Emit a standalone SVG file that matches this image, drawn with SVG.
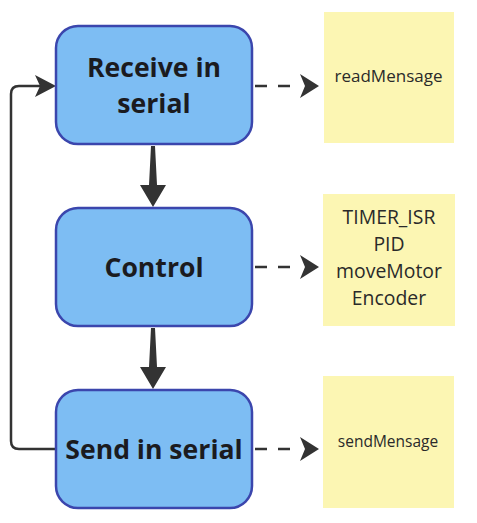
<svg xmlns="http://www.w3.org/2000/svg" width="477" height="523" viewBox="0 0 477 523">
<defs>
<style>
.box{fill:#7dbdf3;stroke:#3b46ad;stroke-width:2.5}
.note{fill:#fcf6b3}
.t{font-family:"Open Sans","Noto Sans",sans-serif;font-weight:bold;font-size:26.6px;fill:#1b1b1f;text-anchor:middle}
.n{font-family:"Open Sans","Noto Sans",sans-serif;font-size:17px;fill:#2a2a2a;text-anchor:middle}
.dash{fill:none;stroke:#333;stroke-width:2.5;stroke-dasharray:12 11}
.ah{fill:#333}
</style>
<linearGradient id="g" x1="0" y1="1" x2="1" y2="0">
<stop offset="0" stop-color="#fbf4b6"/>
<stop offset="1" stop-color="#fdf5a8"/>
</linearGradient>
</defs>
<rect width="477" height="523" fill="#ffffff"/>
<g id="connectors">
<path d="M55,449 H19 Q11,449 11,441 V94 Q11,86 19,86 H40" fill="none" stroke="#333" stroke-width="2.5"/>
<path class="ah" d="M56,86 L35,75 L40,86 L35,97 Z"/>
<path class="ah" d="M151,146 L155,146 L157,185 L166,185 L153,207 L140,185 L149,185 Z"/>
<path class="ah" d="M151,328 L155,328 L157,367 L166,367 L153,389 L140,367 L149,367 Z"/>
<path class="dash" d="M255,86 H296"/>
<path class="ah" d="M319,86 L300,74 L305,86 L300,98 Z"/>
<path class="dash" d="M255,267 H296"/>
<path class="ah" d="M319,267 L300,255 L305,267 L300,279 Z"/>
<path class="dash" d="M255,449 H296"/>
<path class="ah" d="M319,449 L300,437 L305,449 L300,461 Z"/>
</g>
<g id="receive">
<rect class="box" x="56" y="26" width="196" height="118" rx="22"/>
<text class="t" x="154" y="77">Receive in</text>
<text class="t" x="154" y="113">serial</text>
</g>
<g id="control">
<rect class="box" x="56" y="208" width="196" height="118" rx="22"/>
<text class="t" x="154" y="277">Control</text>
</g>
<g id="send">
<rect class="box" x="56" y="390" width="196" height="118" rx="22"/>
<text class="t" x="154" y="459">Send in serial</text>
</g>
<g id="note1">
<rect class="note" x="324" y="12" width="130" height="131" fill="url(#g)"/>
<text class="n" x="388.5" y="82">readMensage</text>
</g>
<g id="note2">
<rect class="note" x="323" y="194" width="132" height="132" fill="url(#g)"/>
<text class="n" x="389" y="224" style="font-size:19.4px">TIMER_ISR</text>
<text class="n" x="389" y="251" style="font-size:19.4px">PID</text>
<text class="n" x="389" y="278" style="font-size:19.4px">moveMotor</text>
<text class="n" x="389" y="305" style="font-size:19.4px">Encoder</text>
</g>
<g id="note3">
<rect class="note" x="323" y="376" width="131" height="132" fill="url(#g)"/>
<text class="n" x="388" y="447" style="font-size:15.5px">sendMensage</text>
</g>
</svg>
